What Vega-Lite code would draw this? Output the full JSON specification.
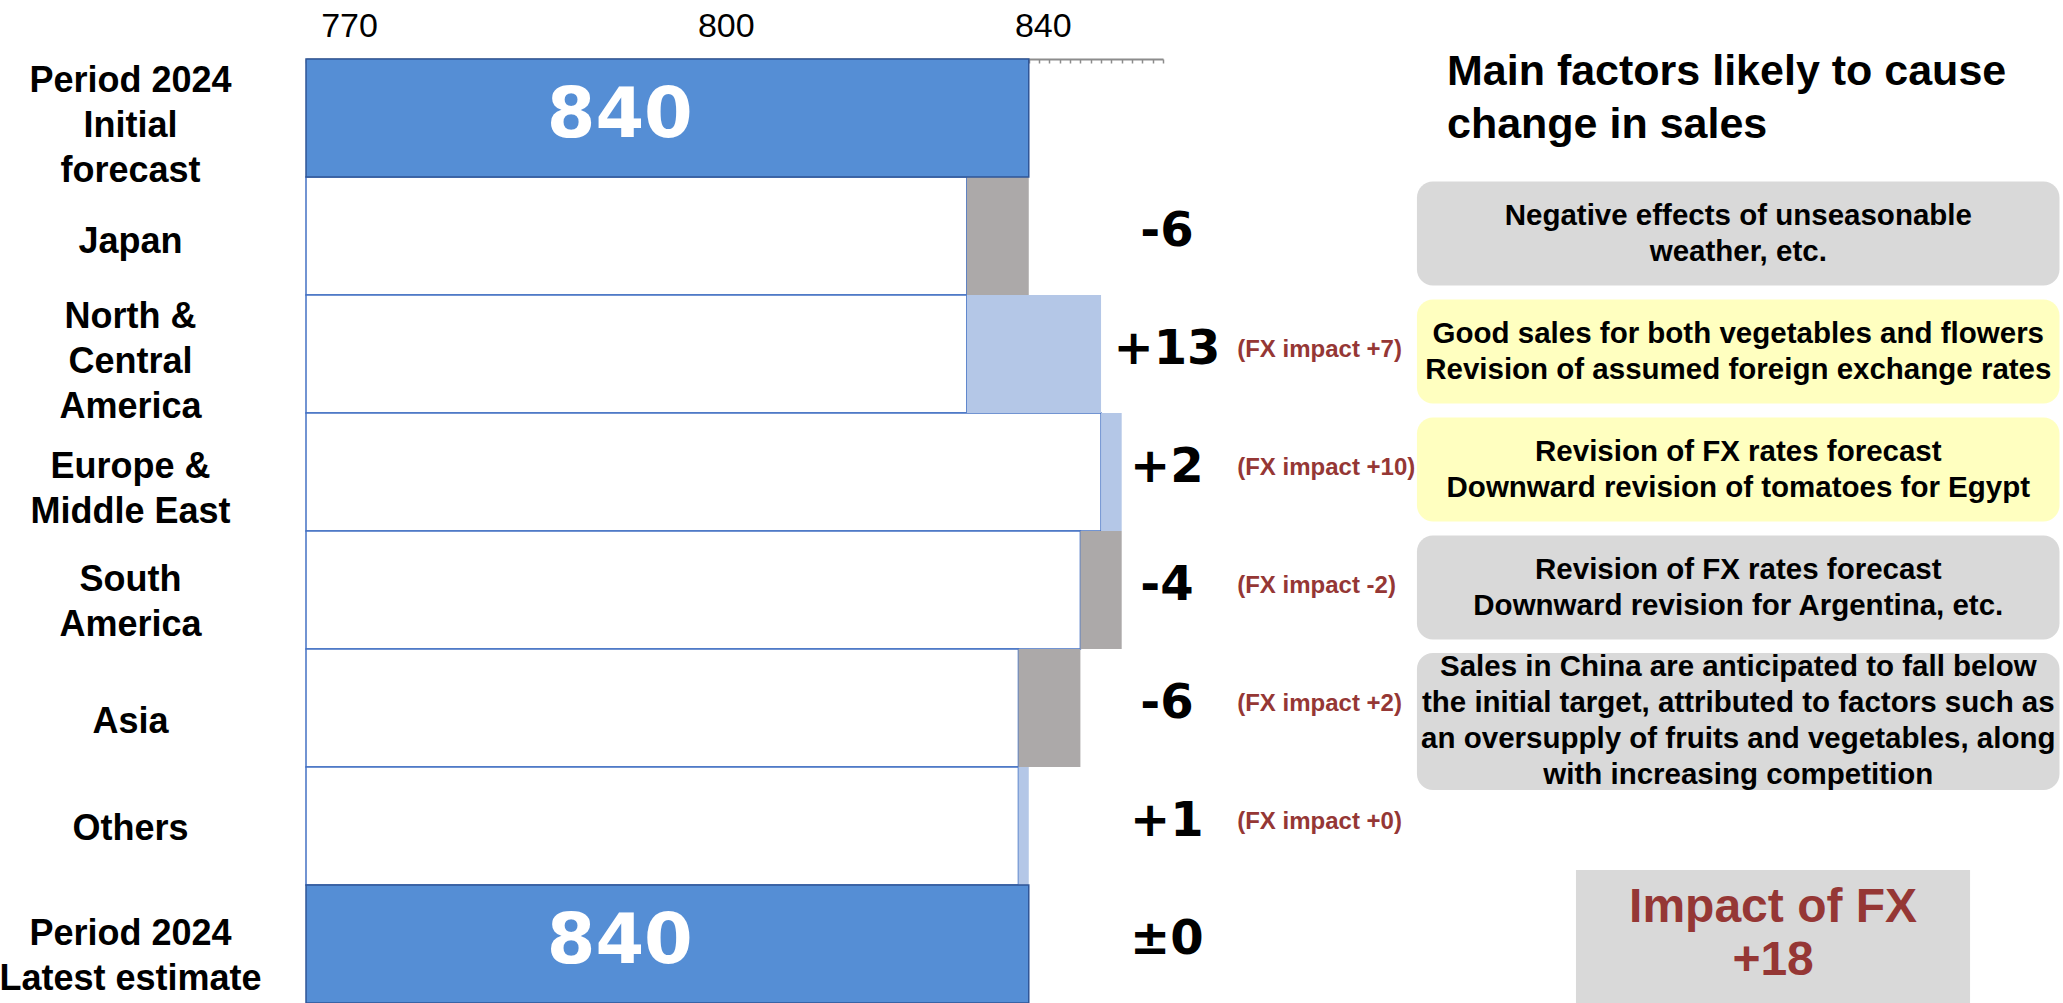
{
  "$schema": "https://vega.github.io/schema/vega-lite/v6.json",
  "width": 1757,
  "height": 944,
  "autosize": {"type": "none"},
  "padding": {"left": 306, "top": 59, "right": 0, "bottom": 0},
  "background": "white",
  "config": {"view": {"stroke": null}},
  "data": {
    "values": [
      {"region": "Period 2024\nInitial\nforecast", "kind": "total", "to": 840},
      {"region": "Japan", "kind": "decrease", "from": 840, "to": 834, "base": 834, "change": "-6", "factor": "Negative effects of unseasonable\nweather, etc."},
      {"region": "North &\nCentral\nAmerica", "kind": "increase", "from": 834, "to": 847, "base": 834, "change": "+13", "fx": "(FX impact +7)", "factor": "Good sales for both vegetables and flowers\nRevision of assumed foreign exchange rates"},
      {"region": "Europe &\nMiddle East", "kind": "increase", "from": 847, "to": 849, "base": 847, "change": "+2", "fx": "(FX impact +10)", "factor": "Revision of FX rates forecast\nDownward revision of tomatoes for Egypt"},
      {"region": "South\nAmerica", "kind": "decrease", "from": 849, "to": 845, "base": 845, "change": "-4", "fx": "(FX impact -2)", "factor": "Revision of FX rates forecast\nDownward revision for Argentina, etc."},
      {"region": "Asia", "kind": "decrease", "from": 845, "to": 839, "base": 839, "change": "-6", "fx": "(FX impact +2)", "factor": "Sales in China are anticipated to fall below\nthe initial target, attributed to factors such as\nan oversupply of fruits and vegetables, along\nwith increasing competition"},
      {"region": "Others", "kind": "increase", "from": 839, "to": 840, "base": 839, "change": "+1", "fx": "(FX impact +0)"},
      {"region": "Period 2024\nLatest estimate", "kind": "total", "to": 840, "change": "±0"}
    ]
  },
  "encoding": {
    "y": {
      "field": "region",
      "type": "nominal",
      "sort": null,
      "scale": {
        "domain": [
          "Period 2024\nInitial\nforecast",
          "Japan",
          "North &\nCentral\nAmerica",
          "Europe &\nMiddle East",
          "South\nAmerica",
          "Asia",
          "Others",
          "Period 2024\nLatest estimate"
        ],
        "paddingInner": 0,
        "paddingOuter": 0
      },
      "axis": {
        "title": null,
        "domain": false,
        "ticks": false,
        "labelExpr": "split(datum.label, '\\n')",
        "labelAlign": "center",
        "labelBaseline": "middle",
        "labelPadding": 176,
        "labelLimit": 0,
        "labelFont": "Liberation Sans",
        "labelFontSize": 36,
        "labelFontWeight": "bold",
        "labelColor": "black",
        "labelLineHeight": 45,
        "labelOffset": {
          "condition": [
            {"test": "length(split(datum.label, '\\n')) == 3", "value": -37},
            {"test": "datum.value == 'Europe &\\nMiddle East'", "value": -5},
            {"test": "length(split(datum.label, '\\n')) == 2", "value": -10},
            {"test": "datum.value == 'Asia'", "value": 14},
            {"test": "datum.value == 'Japan'", "value": 6}
          ],
          "value": 3
        }
      }
    }
  },
  "resolve": {"scale": {"x": "independent"}},
  "layer": [
    {
      "layer": [
        {
          "transform": [{"filter": "datum.kind != 'total'"}],
          "mark": {"type": "bar", "fill": "white", "stroke": "#4472C4", "strokeWidth": 1.5},
          "encoding": {
            "x": {
              "field": "base",
              "type": "quantitative",
              "scale": {"domain": [770, 853], "range": [0, 857], "nice": false, "zero": false},
              "axis": {
                "orient": "top",
                "title": null,
                "grid": false,
                "tickCount": 83,
                "format": "d",
                "labelExpr": "datum.value == 770 || datum.value == 800 || datum.value == 840 ? datum.label : ''",
                "labelOffset": {
                  "condition": [
                    {"test": "datum.value == 770", "value": 43},
                    {"test": "datum.value == 800", "value": 110}
                  ],
                  "value": 14
                },
                "labelFont": "Liberation Sans",
                "labelFontSize": 34,
                "labelColor": "black",
                "labelBaseline": "alphabetic",
                "labelPadding": 27,
                "labelOverlap": false,
                "labelFlush": false,
                "labelBound": false,
                "tickSize": -4,
                "tickColor": "#8C8C8C",
                "tickWidth": 1.5,
                "domainColor": "#8C8C8C",
                "domainWidth": 2
              }
            },
            "x2": {"datum": 770}
          }
        },
        {
          "transform": [{"filter": "datum.kind != 'total'"}],
          "mark": {"type": "bar"},
          "encoding": {
            "x": {"field": "from", "type": "quantitative"},
            "x2": {"field": "to"},
            "color": {
              "condition": {"test": "datum.kind == 'increase'", "value": "#B4C7E7"},
              "value": "#ACA9A9"
            }
          }
        },
        {
          "transform": [{"filter": "datum.kind == 'total'"}],
          "mark": {"type": "bar", "fill": "#558ED5", "stroke": "#2F5597", "strokeWidth": 1.5},
          "encoding": {
            "x": {"field": "to", "type": "quantitative"},
            "x2": {"datum": 770}
          }
        },
        {
          "transform": [{"filter": "datum.kind == 'total'"}],
          "mark": {"type": "text", "font": "DejaVu Sans", "fontWeight": "bold", "fontSize": 70, "color": "white", "align": "center", "baseline": "middle", "dx": 4, "dy": -2},
          "encoding": {
            "x": {"datum": 800, "type": "quantitative"},
            "text": {"field": "to"}
          }
        }
      ]
    },
    {
      "layer": [
        {
          "transform": [{"filter": "datum.change"}],
          "mark": {"type": "text", "font": "DejaVu Sans", "fontWeight": "bold", "fontSize": 48, "color": "black", "align": "center", "baseline": "middle", "dy": -4},
          "encoding": {
            "x": {"datum": 0.49, "type": "quantitative", "scale": {"domain": [0, 1], "nice": false, "zero": false}, "axis": null},
            "text": {"field": "change"}
          }
        },
        {
          "transform": [{"filter": "datum.fx"}],
          "mark": {"type": "text", "font": "Liberation Sans", "fontWeight": "bold", "fontSize": 24, "color": "#953735", "align": "left", "baseline": "middle", "dy": -4},
          "encoding": {
            "x": {"datum": 0.53, "type": "quantitative"},
            "text": {"field": "fx"}
          }
        },
        {
          "transform": [{"filter": "datum.factor && datum.region != 'Asia'"}],
          "mark": {"type": "bar", "cornerRadius": 16, "height": {"band": 0.88}, "yOffset": -2.5},
          "encoding": {
            "x": {"datum": 0.6323, "type": "quantitative"},
            "x2": {"datum": 0.998},
            "color": {
              "condition": {"test": "datum.kind == 'increase'", "value": "#FFFFC0"},
              "value": "#D9D9D9"
            }
          }
        },
        {
          "transform": [{"filter": "datum.region == 'Asia'"}],
          "mark": {"type": "bar", "cornerRadius": 16, "height": {"band": 1.16}, "yOffset": 13.5, "color": "#D9D9D9"},
          "encoding": {
            "x": {"datum": 0.6323, "type": "quantitative"},
            "x2": {"datum": 0.998}
          }
        },
        {
          "transform": [{"filter": "datum.factor && datum.region != 'Asia'"}],
          "mark": {"type": "text", "font": "Liberation Sans", "fontWeight": "bold", "fontSize": 29.5, "lineHeight": 36, "lineBreak": "\n", "color": "black", "align": "center", "baseline": "middle", "dy": -20},
          "encoding": {
            "x": {"datum": 0.8152, "type": "quantitative"},
            "text": {"field": "factor"}
          }
        },
        {
          "transform": [{"filter": "datum.region == 'Asia'"}],
          "mark": {"type": "text", "font": "Liberation Sans", "fontWeight": "bold", "fontSize": 29.5, "lineHeight": 36, "lineBreak": "\n", "color": "black", "align": "center", "baseline": "middle", "dy": -41},
          "encoding": {
            "x": {"datum": 0.8152, "type": "quantitative"},
            "text": {"field": "factor"}
          }
        },
        {
          "data": {"values": [{"heading": "Main factors likely to cause\nchange in sales"}]},
          "mark": {"type": "text", "font": "Liberation Sans", "fontWeight": "bold", "fontSize": 43, "lineHeight": 53, "lineBreak": "\n", "color": "black", "align": "left", "baseline": "middle", "dy": -46},
          "encoding": {
            "x": {"datum": 0.6494, "type": "quantitative"},
            "y": {"datum": "Period 2024\nInitial\nforecast"},
            "text": {"field": "heading"}
          }
        },
        {
          "data": {"values": [{"heading": "Impact of FX\n+18"}]},
          "mark": {"type": "bar", "color": "#D9D9D9", "height": {"band": 1.186}, "yOffset": -4},
          "encoding": {
            "x": {"datum": 0.7228, "type": "quantitative"},
            "x2": {"datum": 0.9471},
            "y": {"datum": "Period 2024\nLatest estimate"}
          }
        },
        {
          "data": {"values": [{"heading": "Impact of FX\n+18"}]},
          "mark": {"type": "text", "font": "Liberation Sans", "fontWeight": "bold", "fontSize": 48, "lineHeight": 53, "lineBreak": "\n", "color": "#953735", "align": "center", "baseline": "middle", "dy": -36},
          "encoding": {
            "x": {"datum": 0.835, "type": "quantitative"},
            "y": {"datum": "Period 2024\nLatest estimate"},
            "text": {"field": "heading"}
          }
        }
      ]
    }
  ]
}
